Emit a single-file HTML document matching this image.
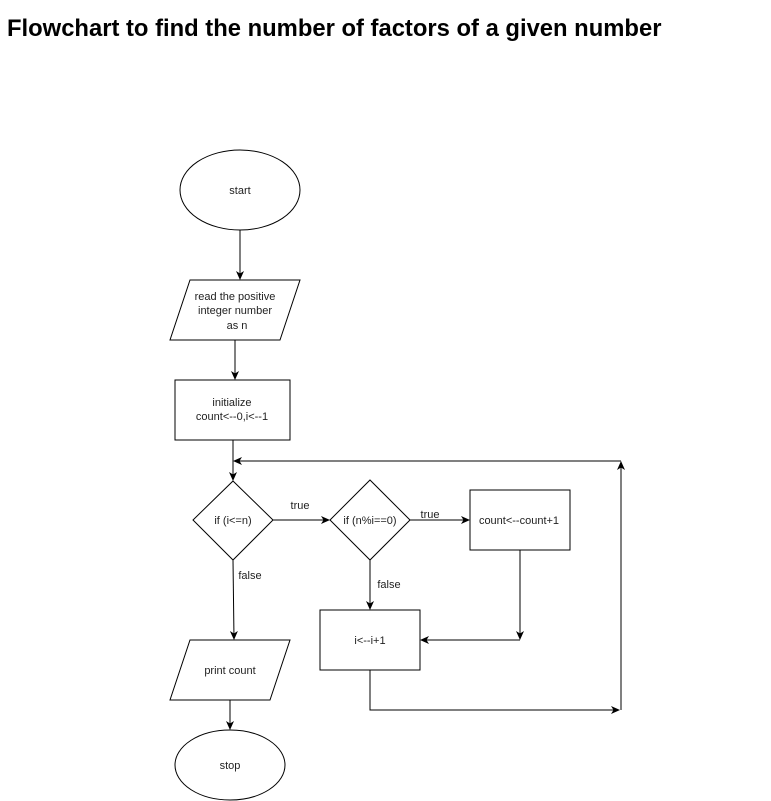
<!DOCTYPE html>
<html><head><style>
body{margin:0;background:#fff;width:771px;height:801px;overflow:hidden;position:relative;font-family:"Liberation Sans",Arial,sans-serif}
h1{position:absolute;left:7px;top:15px;margin:0;font-size:23.8px;font-weight:bold;color:#000}
</style></head><body>
<h1>Flowchart to find the number of factors of a given number</h1>
<svg width="771" height="801" style="position:absolute;left:0;top:0" font-family="Liberation Sans, Arial, sans-serif" font-size="11">
<defs><marker id="a" markerWidth="10" markerHeight="10" refX="8" refY="4" orient="auto" markerUnits="userSpaceOnUse"><path d="M0,0 L9,4 L0,8 L2.5,4 z" fill="#000"/></marker></defs>
<g fill="#fff" stroke="#000" stroke-width="1">
<ellipse cx="240" cy="190" rx="60" ry="40"/>
<polygon points="190,280 300,280 280,340 170,340"/>
<rect x="175" y="380" width="115" height="60"/>
<polygon points="233,481 273,520 233,560 193,520"/>
<polygon points="370,480 410,520 370,560 330,520"/>
<rect x="470" y="490" width="100" height="60"/>
<rect x="320" y="610" width="100" height="60"/>
<polygon points="190,640 290,640 270,700 170,700"/>
<ellipse cx="230" cy="765" rx="55" ry="35"/>
</g>
<g stroke="#000" fill="none">
<line x1="240" y1="230" x2="240" y2="279" marker-end="url(#a)"/>
<line x1="235" y1="340" x2="235" y2="379" marker-end="url(#a)"/>
<line x1="233" y1="440" x2="233" y2="480" marker-end="url(#a)"/>
<line x1="273" y1="520" x2="329" y2="520" marker-end="url(#a)"/>
<line x1="410" y1="520" x2="469" y2="520" marker-end="url(#a)"/>
<line x1="233" y1="560" x2="234" y2="639" marker-end="url(#a)"/>
<line x1="370" y1="560" x2="370" y2="609" marker-end="url(#a)"/>
<line x1="520" y1="550" x2="520" y2="639" marker-end="url(#a)"/>
<line x1="520" y1="640" x2="421" y2="640" marker-end="url(#a)"/>
<line x1="230" y1="700" x2="230" y2="729" marker-end="url(#a)"/>
<polyline points="370,670 370,710 619,710" marker-end="url(#a)"/>
<line x1="621" y1="710" x2="621" y2="462" marker-end="url(#a)"/>
<line x1="621" y1="461" x2="234" y2="461" marker-end="url(#a)"/>
</g>
<g fill="#222" text-anchor="middle">
<text x="240" y="194">start</text>
<text x="235" y="300">read the positive</text>
<text x="235" y="314">integer number</text>
<text x="237" y="329">as n</text>
<text x="232" y="406">initialize</text>
<text x="232" y="420">count&lt;--0,i&lt;--1</text>
<text x="233" y="524">if (i&lt;=n)</text>
<text x="370" y="524">if (n%i==0)</text>
<text x="519" y="524">count&lt;--count+1</text>
<text x="370" y="644">i&lt;--i+1</text>
<text x="230" y="674">print count</text>
<text x="230" y="769">stop</text>
<text x="300" y="509">true</text>
<text x="430" y="518">true</text>
<text x="250" y="579">false</text>
<text x="389" y="588">false</text>
</g>
</svg>
</body></html>
